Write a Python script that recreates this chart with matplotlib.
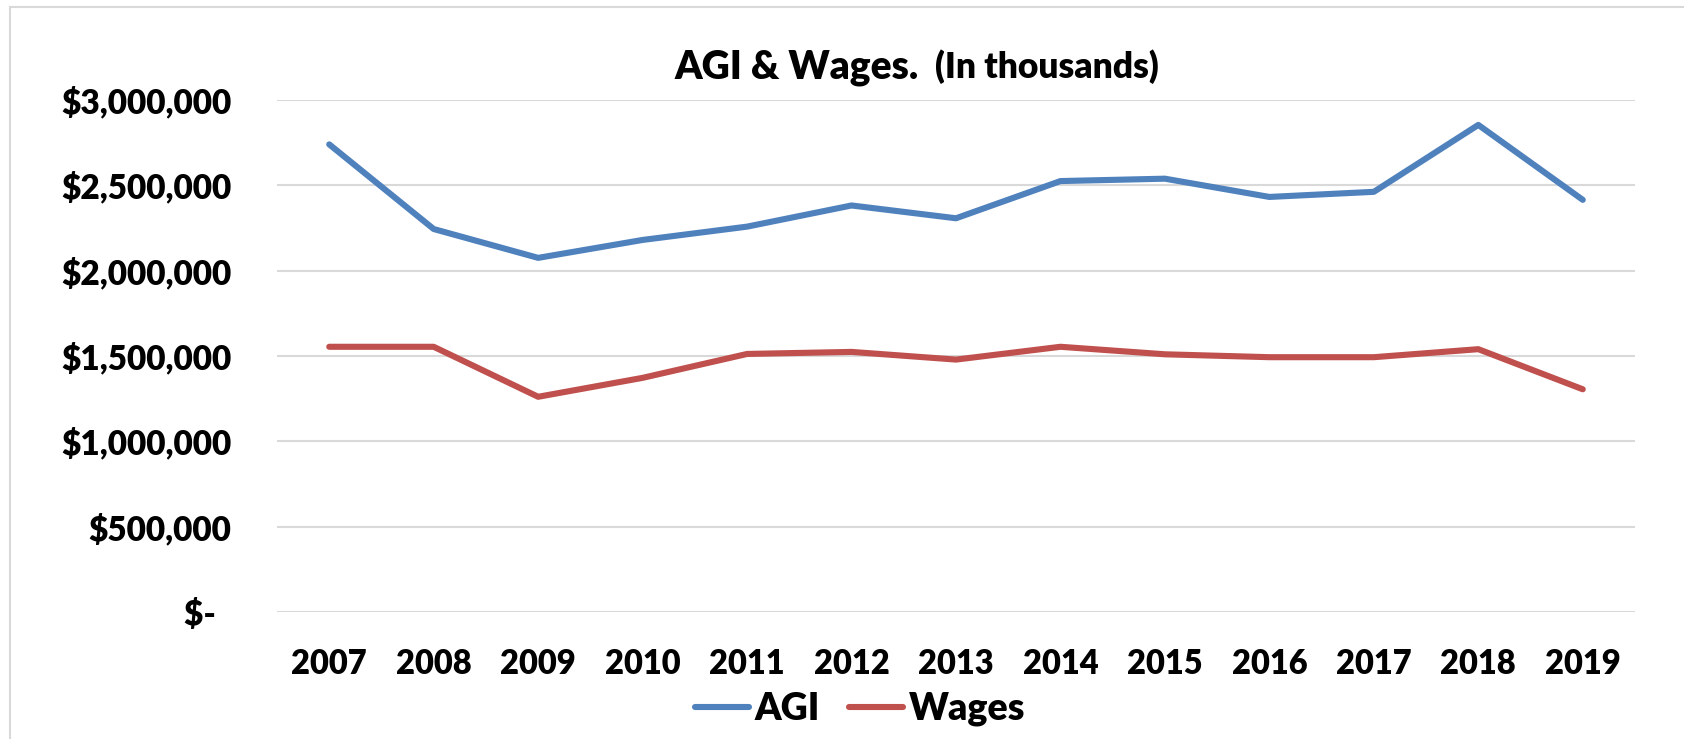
import matplotlib
matplotlib.use("Agg")
import matplotlib.pyplot as plt
from matplotlib.ticker import FuncFormatter
from matplotlib.lines import Line2D

years = ["2007", "2008", "2009", "2010", "2011", "2012", "2013",
         "2014", "2015", "2016", "2017", "2018", "2019"]
agi = [2740000, 2244000, 2075000, 2180000, 2258000, 2382000, 2307000,
       2525000, 2539000, 2432000, 2462000, 2854000, 2415000]
wages = [1554000, 1554000, 1261000, 1372000, 1512000, 1524000, 1479000,
         1554000, 1510000, 1493000, 1493000, 1540000, 1305000]
yticks = [0, 500000, 1000000, 1500000, 2000000, 2500000, 3000000]

plt.rcParams['font.family'] = ['Lato', 'DejaVu Sans']
W, H = 1684, 739
fig = plt.figure(figsize=(W / 100, H / 100), dpi=100)
WEIGHT = 800

def px(x, y):
    return x / W, 1 - y / H

left, right, top, bottom = 277, 1635, 100, 612
ax = fig.add_axes([left / W, 1 - bottom / H, (right - left) / W, (bottom - top) / H])

x = list(range(len(years)))
blue = "#4F81BD"
red = "#C0504D"
ax.plot(x, agi, color=blue, lw=4.4, solid_capstyle='round', solid_joinstyle='round', label="AGI", clip_on=False)
ax.plot(x, wages, color=red, lw=4.4, solid_capstyle='round', solid_joinstyle='round', label="Wages", clip_on=False)

ax.set_xlim(-0.5, len(years) - 0.5)
ax.set_ylim(0, 3000000)
ax.set_yticks(yticks)

def fmt(v, pos):
    if v == 0:
        return "$-  "
    return "${:,.0f}".format(v)

ax.yaxis.set_major_formatter(FuncFormatter(fmt))
ax.set_xticks(x)
ax.set_xticklabels(years)
ax.grid(axis='y', color="#D9D9D9", lw=1.5)
ax.set_axisbelow(True)
for s in ax.spines.values():
    s.set_visible(False)
ax.tick_params(axis='both', length=0)
ax.tick_params(axis='y', pad=33, labelsize=24)
ax.tick_params(axis='x', pad=26, labelsize=23.5)
for lab in ax.get_yticklabels() + ax.get_xticklabels():
    lab.set_fontweight(WEIGHT)

# title
fig.text(*px(674, 67), "AGI & Wages.", fontsize=28, fontweight=WEIGHT, ha='left', va='center')
fig.text(*px(935, 67), "(In thousands)", fontsize=25.5, fontweight=WEIGHT, ha='left', va='center')

# legend
handles = [Line2D([], [], color=blue, lw=4.4, solid_capstyle='round'),
           Line2D([], [], color=red, lw=4.4, solid_capstyle='round')]
leg = fig.legend(handles, ["AGI", "Wages"], loc='center', bbox_to_anchor=px(860, 709),
                 ncol=2, frameon=False, prop={'size': 27, 'weight': WEIGHT},
                 handlelength=1.44, handletextpad=0.16, columnspacing=0.77,
                 borderaxespad=0, borderpad=0)

# outer border (only top and left visible)
fig.add_artist(Line2D([10 / W, 1], [1 - 7 / H, 1 - 7 / H], color="#D9D9D9", lw=1.5, transform=fig.transFigure))
fig.add_artist(Line2D([10 / W, 10 / W], [0, 1 - 7 / H], color="#D9D9D9", lw=1.5, transform=fig.transFigure))

fig.savefig("out.png", dpi=100)
